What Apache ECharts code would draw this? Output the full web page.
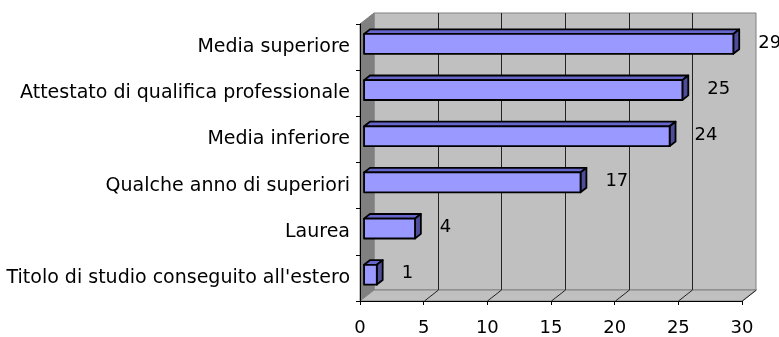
<!DOCTYPE html>
<html>
<head>
<meta charset="utf-8">
<script src="https://cdn.jsdelivr.net/npm/echarts@6/dist/echarts.min.js"></script>
<style>
html,body{margin:0;padding:0;background:#fff;}
#chart{width:779px;height:337px;}
</style>
</head>
<body>
<div id="chart"></div>
<script>
// ---- data ----
const categories = [
  'Media superiore',
  'Attestato di qualifica professionale',
  'Media inferiore',
  'Qualche anno di superiori',
  'Laurea',
  "Titolo di studio conseguito all'estero"
];
const values = [29, 25, 24, 17, 4, 1];
const xTicks = [0, 5, 10, 15, 20, 25, 30];

// ---- style constants ----
const FONT = 'DejaVu Sans';
const DX = 14, DY = 11;           // 3D depth offset of the back wall
const BAR_FRONT = 0.29, BAR_BACK = 0.71; // bar depth position (fraction of depth)
const BAR_FRAC = 0.43;            // bar thickness relative to band

const chart = echarts.init(document.getElementById('chart'), null, {renderer: 'canvas'});

function frameRender(params, api) {
  const cs = params.coordSys;
  const x0 = cs.x, y0 = cs.y, x1 = cs.x + cs.width, y1 = cs.y + cs.height;
  const children = [];
  // back wall
  children.push({type: 'rect', shape: {x: x0 + DX, y: y0 - DY, width: cs.width, height: cs.height},
    style: {fill: '#C0C0C0', stroke: '#808080', lineWidth: 1}});
  // left wall
  children.push({type: 'polygon', shape: {points: [[x0, y0], [x0 + DX, y0 - DY], [x0 + DX, y1 - DY], [x0, y1]]},
    style: {fill: '#808080', stroke: '#808080', lineWidth: 1}});
  // floor
  children.push({type: 'polygon', shape: {points: [[x0, y1], [x0 + DX, y1 - DY], [x1 + DX, y1 - DY], [x1, y1]]},
    style: {fill: '#C0C0C0', stroke: '#808080', lineWidth: 1}});
  const tmin = xTicks[0], tmax = xTicks[xTicks.length - 1];
  xTicks.forEach(function (t) {
    const px = Math.round(api.coord([t, 0])[0]) + 0.5;
    if (t > tmin && t < tmax) {
      children.push({type: 'line', shape: {x1: px + DX, y1: y0 - DY, x2: px + DX, y2: y1 - DY},
        style: {stroke: '#222222', lineWidth: 1}});
    }
    if (t > tmin) {
      children.push({type: 'line', shape: {x1: px, y1: y1, x2: px + DX, y2: y1 - DY},
        style: {stroke: '#222222', lineWidth: 1}});
    }
  });
  return {type: 'group', children: children};
}

function barRender(params, api) {
  const v = api.value(0), c = api.value(1);
  const base = api.coord([0, c]);
  const end = api.coord([v, c]);
  const band = api.size([0, 1])[1];
  const h = band * BAR_FRAC;
  const fx = DX * BAR_FRONT, fy = DY * BAR_FRONT;
  const ddx = DX * (BAR_BACK - BAR_FRONT), ddy = DY * (BAR_BACK - BAR_FRONT);
  const L = base[0] + fx, R = end[0] + fx;
  const T = base[1] - fy - h / 2, B = T + h;
  const st = {stroke: '#000', lineWidth: 1.8, lineJoin: 'round'};
  return {type: 'group', children: [
    {type: 'polygon', shape: {points: [[L, T], [L + ddx, T - ddy], [R + ddx, T - ddy], [R, T]]},
      style: Object.assign({fill: '#6666CC'}, st)},
    {type: 'polygon', shape: {points: [[R, T], [R + ddx, T - ddy], [R + ddx, B - ddy], [R, B]]},
      style: Object.assign({fill: '#4D4D99'}, st)},
    {type: 'rect', shape: {x: L, y: T, width: R - L, height: h},
      style: Object.assign({fill: '#9999FF'}, st)},
    {type: 'text', x: R + ddx + 19, y: (T + B) / 2 - 1,
      style: {text: String(v), fill: '#000', font: '18px "' + FONT + '"', verticalAlign: 'middle', align: 'left'}}
  ]};
}

const option = {
  animation: false,
  backgroundColor: '#ffffff',
  grid: {left: 360, right: 37, top: 24, bottom: 33, containLabel: false},
  xAxis: {
    type: 'value', min: 0, max: 30, interval: 5, z: 10,
    axisLine: {show: true, lineStyle: {color: '#000', width: 1}},
    axisTick: {show: true, length: 4, lineStyle: {color: '#000'}},
    splitLine: {show: false},
    axisLabel: {color: '#000', fontSize: 18, fontFamily: FONT, margin: 18}
  },
  yAxis: {
    type: 'category', data: categories, inverse: true, z: 10,
    axisLine: {show: true, lineStyle: {color: '#000', width: 1}},
    axisTick: {show: true, length: 4, lineStyle: {color: '#000'}},
    splitLine: {show: false},
    axisLabel: {color: '#000', fontSize: 19, fontFamily: FONT, margin: 10, padding: [0, 0, 6, 0]}
  },
  series: [
    {type: 'custom', z: 1, renderItem: frameRender, data: [[0, 0]], silent: true, clip: false},
    {type: 'custom', z: 3, renderItem: barRender, encode: {x: 0, y: 1},
      data: values.map(function (v, i) { return [v, i]; }), clip: false}
  ]
};
chart.setOption(option);
</script>
</body>
</html>
